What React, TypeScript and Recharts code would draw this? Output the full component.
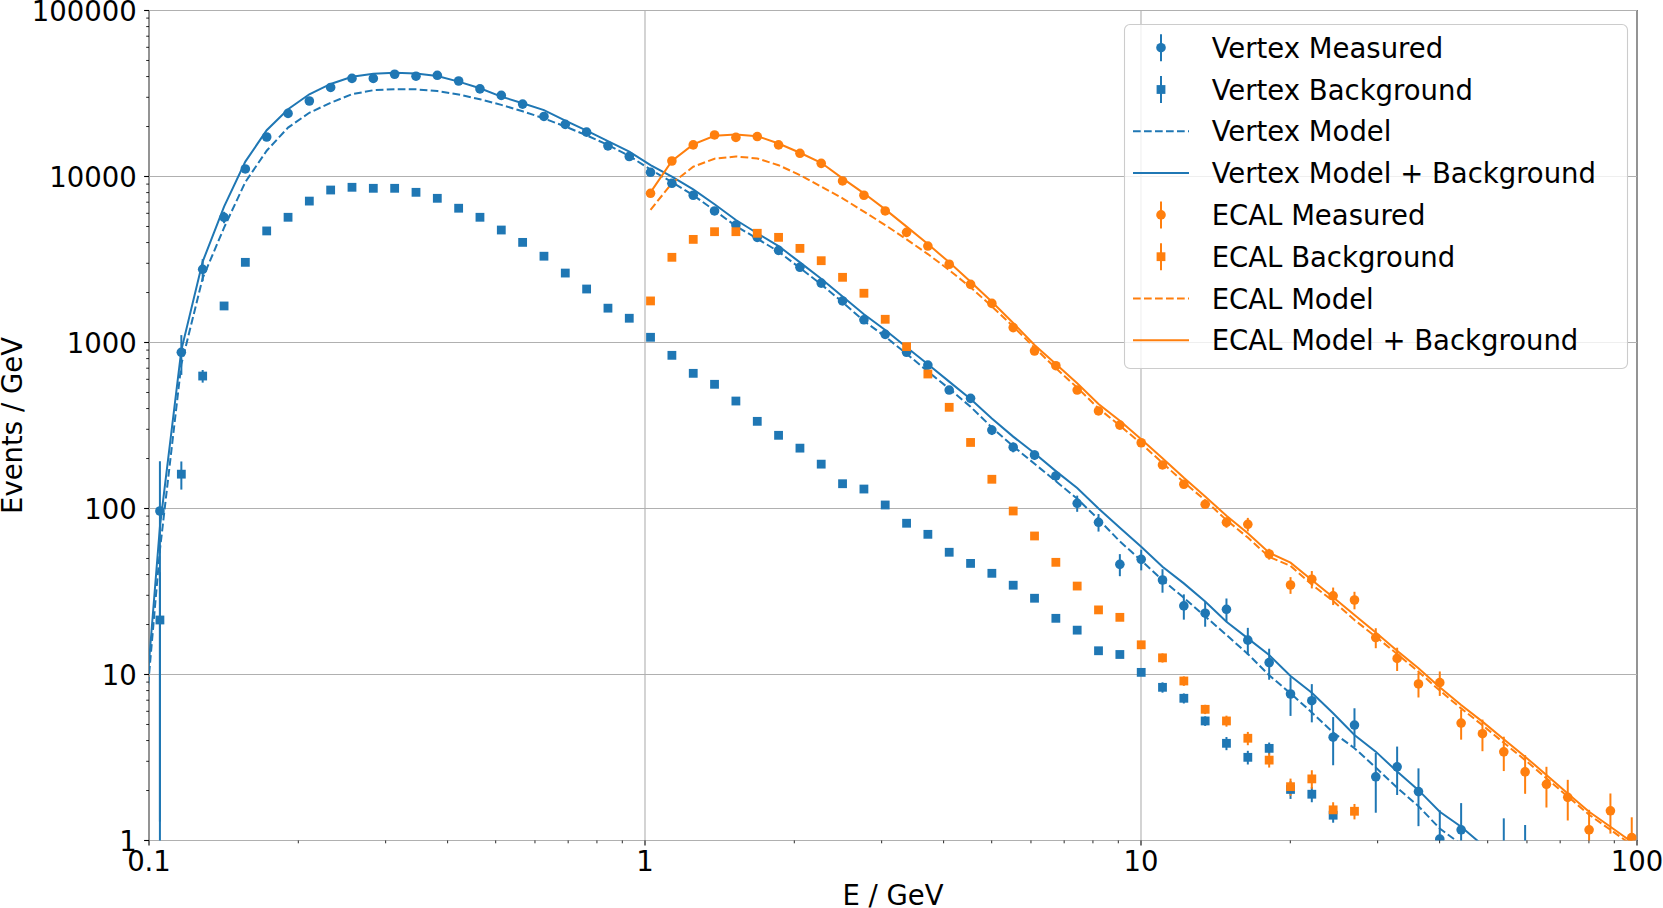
import React from 'react';
import { ComposedChart, Line, Scatter, XAxis, YAxis, ErrorBar, ReferenceLine, ReferenceArea } from 'recharts';

const BLUE = '#1f77b4';
const ORANGE = '#ff7f0e';
const FONT = 'DejaVu Sans';
const FS = 27.5;

// bin centres (GeV)
const ENERGY = [
  0.1052, 0.1162, 0.1283, 0.1417, 0.1564, 0.1727, 0.1907, 0.2105, 0.2324, 0.2566,
  0.2833, 0.3128, 0.3454, 0.3813, 0.421, 0.4648, 0.5132, 0.5666, 0.6256, 0.6907,
  0.7626, 0.842, 0.9296, 1.026, 1.133, 1.251, 1.381, 1.525, 1.684, 1.859,
  2.053, 2.266, 2.502, 2.763, 3.05, 3.368, 3.718, 4.105, 4.533, 5.004,
  5.525, 6.1, 6.735, 7.436, 8.21, 9.065, 10.01, 11.05, 12.2, 13.47,
  14.87, 16.42, 18.13, 20.02, 22.1, 24.4, 26.94, 29.74, 32.84, 36.26,
  40.03, 44.2, 48.8, 53.88, 59.49, 65.68, 72.51, 80.06, 88.39, 97.59,
];
const E_BELOW = 0.0953; // model point just left of the axis range

// Vertex measured (bins 0..64)
const VTX_MEAS = [
  96.6, 873, 2760, 5680, 11100, 17300, 24000, 28500, 34400, 39000,
  39000, 41300, 40200, 40700, 37600, 33700, 30800, 27300, 23000, 20600,
  18500, 15300, 13200, 10600, 9100, 7710, 6200, 5100, 4300, 3590,
  2840, 2280, 1780, 1370, 1120, 873, 731, 517, 461, 297,
  234, 210, 157, 107.5, 82.6, 46.1, 49.4, 37.1, 25.9, 23.4,
  24.7, 16.1, 11.8, 7.63, 6.95, 4.19, 4.96, 2.42, 2.78, 1.97,
  1.02, 1.16, null, 0.9, 0.8,
];
const VTX_MEAS_ERR = [
  96, 235, 420, 450, 0, 0, 0, 0, 0, 0,
  0, 0, 0, 0, 0, 0, 0, 0, 0, 0,
  0, 0, 0, 0, 0, 0, 0, 0, 0, 0,
  0, 0, 0, 0, 0, 0, 0, 0, 0, 20,
  16, 14, 12, 12, 10, 7, 7, 6, 4.5, 4,
  4, 3, 2.5, 2, 1.8, 1.35, 1.3, 0.95, 0.9, 0.75,
  0.5, 0.52, null, 0.46, 0.44,
];
// Vertex background (bins 0..55)
const VTX_BKG = [
  21.3, 161, 628, 1660, 3040, 4700, 5680, 7110, 8290, 8610,
  8490, 8490, 8030, 7390, 6440, 5680, 4760, 4010, 3310, 2620,
  2100, 1610, 1400, 1075, 837, 652, 560, 444, 335, 276,
  231, 185, 141, 131, 105, 81.5, 69.9, 54.5, 46.7, 40.7,
  34.5, 28.8, 21.8, 18.5, 13.9, 13.2, 10.3, 8.37, 7.19, 5.25,
  3.85, 3.17, 3.59, 2.03, 1.9, 1.42,
];
const VTX_BKG_ERR = [
  20, 31, 55, 0, 0, 0, 0, 0, 0, 0,
  0, 0, 0, 0, 0, 0, 0, 0, 0, 0,
  0, 0, 0, 0, 0, 0, 0, 0, 0, 0,
  0, 0, 0, 0, 0, 0, 0, 0, 0, 0,
  0, 0, 0, 0, 0, 0, 0, 0.6, 0.5, 0.35,
  0.35, 0.3, 0.3, 0.25, 0.2, 0.14,
];
// Vertex model and model + background (from bin -1, i.e. E_BELOW)
const VTX_MODEL = [
  1.9, 56.3, 739, 2440, 4920, 9260, 14300, 19700, 24200, 27800, 31300,
  33100, 33600, 33500, 32700, 31200, 29200, 27000, 24700, 22400, 20000,
  17700, 15500, 13300, 11000, 9250, 7720, 6240, 5030, 4220, 3530,
  2810, 2240, 1750, 1350, 1085, 855, 669, 527, 410, 308,
  237, 186, 146, 114.5, 86.1, 63.4, 48.6, 37, 29, 22.4,
  17.3, 13.3, 9.9, 7.7, 5.9, 4.47, 3.6, 2.75, 2.08, 1.61,
  1.18, 0.95, 0.75,
];
const VTX_TOTAL = [
  2.0, 77.6, 900, 3070, 6580, 12300, 19000, 25400, 31300, 36100, 39900,
  41600, 42200, 41800, 40300, 37300, 34000, 30300, 27600, 25100, 21700,
  18900, 16350, 14100, 11700, 9970, 8370, 6800, 5470, 4550, 3810,
  3040, 2420, 1890, 1480, 1190, 936, 739, 581, 457, 349,
  271, 215, 168, 133, 100, 76.6, 58.9, 44.6, 35.4, 27.5,
  20.8, 16.5, 13.1, 9.8, 7.76, 5.84, 4.32, 3.43, 2.6, 2.01,
  1.49, 1.21, 0.94, 0.75,
];

// ECAL (from bin 23)
const ECAL_START = 23;
const ECAL_MEAS = [
  7920, 12400, 15500, 17800, 17200, 17400, 15500, 13800, 12000, 9400,
  7710, 6200, 4610, 3810, 2960, 2240, 1720, 1230, 889, 725,
  517, 387, 318, 249, 183, 140, 106, 82.6, 80.3, 53.2,
  34.6, 37.5, 29.8, 28.1, 16.7, 12.5, 8.77, 8.93, 5.1, 4.4,
  3.42, 2.59, 2.18, 1.82, 1.16, 1.51, 1.04,
];
const ECAL_MEAS_ERR = [
  0, 0, 0, 0, 0, 0, 0, 0, 0, 0,
  0, 0, 0, 0, 0, 0, 0, 0, 0, 0,
  0, 0, 0, 0, 0, 5, 5, 6, 7.5, 4,
  4, 4.5, 3.6, 3.4, 2.3, 2, 1.5, 1.5, 1.05, 0.95,
  0.8, 0.68, 0.6, 0.5, 0.37, 0.41, 0.34,
];
const ECAL_BKG = [
  1780, 3260, 4180, 4650, 4650, 4550, 4300, 3690, 3110, 2470,
  1980, 1380, 944, 646, 407, 250, 150, 96.6, 68.3, 47.4,
  34.1, 24.5, 22.1, 15.1, 12.6, 9.14, 6.17, 5.25, 4.13, 3.05,
  2.11, 2.35, 1.53, 1.5,
];
const ECAL_BKG_ERR = [
  0, 0, 0, 0, 0, 0, 0, 0, 0, 0,
  0, 0, 0, 0, 0, 0, 0, 0, 0, 0,
  0, 0, 0, 0, 0.8, 0.6, 0.4, 0.4, 0.38, 0.3,
  0.25, 0.3, 0.17, 0.16,
];
const ECAL_MODEL = [
  6300, 9100, 11450, 12800, 13200, 12850, 11700, 10200, 8680, 7390,
  6140, 5100, 4180, 3410, 2730, 2150, 1650, 1250, 930, 700,
  535, 401, 316, 246, 188, 144, 112, 85.2, 66.8, 51.1,
  45.1, 34.8, 27.7, 21.3, 16.9, 13.3, 10.4, 8.0, 6.25, 4.95,
  3.88, 3.05, 2.37, 1.84, 1.43, 1.16, 0.94,
];
const ECAL_TOTAL = [
  8030, 12400, 15600, 17600, 17900, 17500, 15800, 13900, 12100, 9750,
  7920, 6340, 4990, 3920, 3040, 2320, 1760, 1310, 966, 742,
  568, 426, 338, 261, 201, 153, 118, 90.5, 70.9, 54.2,
  47.2, 37.1, 29.2, 22.8, 17.9, 13.9, 10.9, 8.37, 6.55, 5.2,
  4.07, 3.2, 2.48, 1.92, 1.49, 1.21, 0.98,
];

// axes
const X_MAJOR = [0.1, 1, 10, 100];
const Y_MAJOR = [1, 10, 100, 1000, 10000, 100000];
const MINOR_STEPS = [2, 3, 4, 5, 6, 7, 8, 9];
const minorOf = (majors: number[]) =>
  majors.slice(0, -1).flatMap((d) => MINOR_STEPS.map((m) => Number((d * m).toPrecision(4))));
const X_TICKS = [...X_MAJOR, ...minorOf(X_MAJOR)].sort((a, b) => a - b);
const Y_TICKS = [...Y_MAJOR, ...minorOf(Y_MAJOR)].sort((a, b) => a - b);
const Y_MIN = Y_MAJOR[0];
const Y_MAX = Y_MAJOR[Y_MAJOR.length - 1];

const LEGEND = [
  { label: 'Vertex Measured', color: BLUE, kind: 'circle' },
  { label: 'Vertex Background', color: BLUE, kind: 'square' },
  { label: 'Vertex Model', color: BLUE, kind: 'dash' },
  { label: 'Vertex Model + Background', color: BLUE, kind: 'solid' },
  { label: 'ECAL Measured', color: ORANGE, kind: 'circle' },
  { label: 'ECAL Background', color: ORANGE, kind: 'square' },
  { label: 'ECAL Model', color: ORANGE, kind: 'dash' },
  { label: 'ECAL Model + Background', color: ORANGE, kind: 'solid' },
];

const energyAt = (i: number) => (i < 0 ? E_BELOW : ENERGY[i]);

type Pt = { x: number; y: number; err?: [number, number] };
// error bars are cut at the bottom of the plot (like the axes clip in the original)
function points(values: (number | null)[], start: number, errs?: (number | null)[]): Pt[] {
  const out: Pt[] = [];
  values.forEach((v, k) => {
    if (v == null) return;
    const p: Pt = { x: energyAt(start + k), y: v };
    if (errs) {
      const e = errs[k] ?? 0;
      const low = v - e < Y_MIN ? v - Y_MIN : e;
      p.err = [low, e];
    }
    out.push(p);
  });
  return out;
}

const vtxMeas = points(VTX_MEAS, 0, VTX_MEAS_ERR);
const vtxBkg = points(VTX_BKG, 0, VTX_BKG_ERR);
const vtxModel = points(VTX_MODEL, -1);
const vtxTotal = points(VTX_TOTAL, -1);
const ecalMeas = points(ECAL_MEAS, ECAL_START, ECAL_MEAS_ERR);
const ecalBkg = points(ECAL_BKG, ECAL_START, ECAL_BKG_ERR);
const ecalModel = points(ECAL_MODEL, ECAL_START);
const ecalTotal = points(ECAL_TOTAL, ECAL_START);

const isMajor = (v: number) => Math.abs(Math.log10(v) - Math.round(Math.log10(v))) < 1e-6;

const XTick = (p: any) => {
  const { x, y, payload } = p;
  const v = payload.value;
  const major = isMajor(v);
  return (
    <g>
      <line x1={x} x2={x} y1={y} y2={y + (major ? 4.9 : 2.8)} stroke="#000" strokeWidth={major ? 1.1 : 0.85} />
      {major && (
        <text x={x} y={y + 30.2} textAnchor="middle" fontFamily={FONT} fontSize={FS} fill="#000">
          {String(v)}
        </text>
      )}
    </g>
  );
};

const YTick = (p: any) => {
  const { x, y, payload } = p;
  const v = payload.value;
  const major = isMajor(v);
  return (
    <g>
      <line x1={x - (major ? 4.9 : 2.8)} x2={x} y1={y} y2={y} stroke="#000" strokeWidth={major ? 1.1 : 0.85} />
      {major && (
        <text x={x - 12.3} y={y + 10} textAnchor="end" fontFamily={FONT} fontSize={FS} fill="#000">
          {String(v)}
        </text>
      )}
    </g>
  );
};

const inRange = (p: any) => {
  const v = p?.payload?.y;
  return p.cx != null && (v == null || (v >= Y_MIN && v <= Y_MAX));
};
const circleShape = (color: string) => (p: any) =>
  inRange(p) ? <circle cx={p.cx} cy={p.cy} r={4.8} fill={color} /> : <g />;
const squareShape = (color: string) => (p: any) =>
  inRange(p) ? <rect x={p.cx - 4.4} y={p.cy - 4.4} width={8.8} height={8.8} fill={color} /> : <g />;

const DASH = '7.7 3.3';

function LegendBox() {
  const left = 1124.5;
  const top = 24.5;
  const rowH = 41.8;
  const first = 47.7;
  return (
    <svg width={1663} height={908} style={{ position: 'absolute', left: 0, top: 0, pointerEvents: 'none' }}>
      <rect x={left} y={top} width={503} height={344} rx={5.5} ry={5.5} fill="#ffffff" fillOpacity={0.8} stroke="#cccccc" strokeWidth={1.1} />
      {LEGEND.map((e, k) => {
        const cy = first + rowH * k;
        let handle: React.ReactNode = null;
        if (e.kind === 'circle' || e.kind === 'square') {
          handle = (
            <g>
              <line x1={1161} x2={1161} y1={cy - 13.5} y2={cy + 13.5} stroke={e.color} strokeWidth={2} />
              {e.kind === 'circle' ? (
                <circle cx={1161} cy={cy} r={4.8} fill={e.color} />
              ) : (
                <rect x={1161 - 4.4} y={cy - 4.4} width={8.8} height={8.8} fill={e.color} />
              )}
            </g>
          );
        } else {
          handle = (
            <line x1={1133} x2={1189} y1={cy} y2={cy} stroke={e.color} strokeWidth={2} strokeDasharray={e.kind === 'dash' ? DASH : undefined} />
          );
        }
        return (
          <g key={e.label}>
            {handle}
            <text x={1211.7} y={cy + 10} fontFamily={FONT} fontSize={FS} fill="#000">
              {e.label}
            </text>
          </g>
        );
      })}
    </svg>
  );
}

function AxisLabels() {
  return (
    <svg width={1663} height={908} style={{ position: 'absolute', left: 0, top: 0, pointerEvents: 'none' }}>
      <text x={893} y={905} textAnchor="middle" fontFamily={FONT} fontSize={FS} fill="#000">
        E / GeV
      </text>
      <text transform="translate(21.7,425.5) rotate(-90)" textAnchor="middle" fontFamily={FONT} fontSize={FS} fill="#000">
        Events / GeV
      </text>
    </svg>
  );
}

export default function App() {
  return (
    <div style={{ position: 'absolute', left: 0, top: 0, width: 1663, height: 908, background: '#fff', overflow: 'hidden' }}>
      <ComposedChart width={1663} height={908} margin={{ top: 10.5, right: 26, bottom: 66.5, left: 148 }}>
        <XAxis
          dataKey="x"
          type="number"
          scale="log"
          domain={[0.1, 100]}
          allowDataOverflow
          ticks={X_TICKS}
          interval={0}
          tick={(p: any) => <XTick {...p} />}
          tickLine={false}
          axisLine={false}
          tickSize={0}
          tickMargin={0}
          height={1}
        />
        <YAxis
          dataKey="y"
          type="number"
          scale="log"
          domain={[Y_MIN, Y_MAX]}
          allowDataOverflow
          ticks={Y_TICKS}
          interval={0}
          tick={(p: any) => <YTick {...p} />}
          tickLine={false}
          axisLine={false}
          tickSize={0}
          tickMargin={0}
          width={1}
        />
        {X_MAJOR.map((v) => (
          <ReferenceLine key={'gx' + v} x={v} stroke="#b0b0b0" strokeWidth={1.1} />
        ))}
        {Y_MAJOR.map((v) => (
          <ReferenceLine key={'gy' + v} y={v} stroke="#b0b0b0" strokeWidth={1.1} />
        ))}

        <Scatter data={vtxMeas} dataKey="y" fill={BLUE} shape={circleShape(BLUE)} isAnimationActive={false}>
          <ErrorBar dataKey="err" direction="y" width={0} stroke={BLUE} strokeWidth={2} />
        </Scatter>
        <Scatter data={vtxBkg} dataKey="y" fill={BLUE} shape={squareShape(BLUE)} isAnimationActive={false}>
          <ErrorBar dataKey="err" direction="y" width={0} stroke={BLUE} strokeWidth={2} />
        </Scatter>
        <Line data={vtxModel} dataKey="y" type="linear" stroke={BLUE} strokeWidth={2} strokeDasharray={DASH} dot={false} activeDot={false} isAnimationActive={false} />
        <Line data={vtxTotal} dataKey="y" type="linear" stroke={BLUE} strokeWidth={2} dot={false} activeDot={false} isAnimationActive={false} />

        <Scatter data={ecalMeas} dataKey="y" fill={ORANGE} shape={circleShape(ORANGE)} isAnimationActive={false}>
          <ErrorBar dataKey="err" direction="y" width={0} stroke={ORANGE} strokeWidth={2} />
        </Scatter>
        <Scatter data={ecalBkg} dataKey="y" fill={ORANGE} shape={squareShape(ORANGE)} isAnimationActive={false}>
          <ErrorBar dataKey="err" direction="y" width={0} stroke={ORANGE} strokeWidth={2} />
        </Scatter>
        <Line data={ecalModel} dataKey="y" type="linear" stroke={ORANGE} strokeWidth={2} strokeDasharray={DASH} dot={false} activeDot={false} isAnimationActive={false} />
        <Line data={ecalTotal} dataKey="y" type="linear" stroke={ORANGE} strokeWidth={2} dot={false} activeDot={false} isAnimationActive={false} />

        <ReferenceArea x1={0.1} x2={100} y1={Y_MIN} y2={Y_MAX} fill="none" fillOpacity={0} stroke="#000" strokeWidth={1.1} />
      </ComposedChart>
      <AxisLabels />
      <LegendBox />
    </div>
  );
}
